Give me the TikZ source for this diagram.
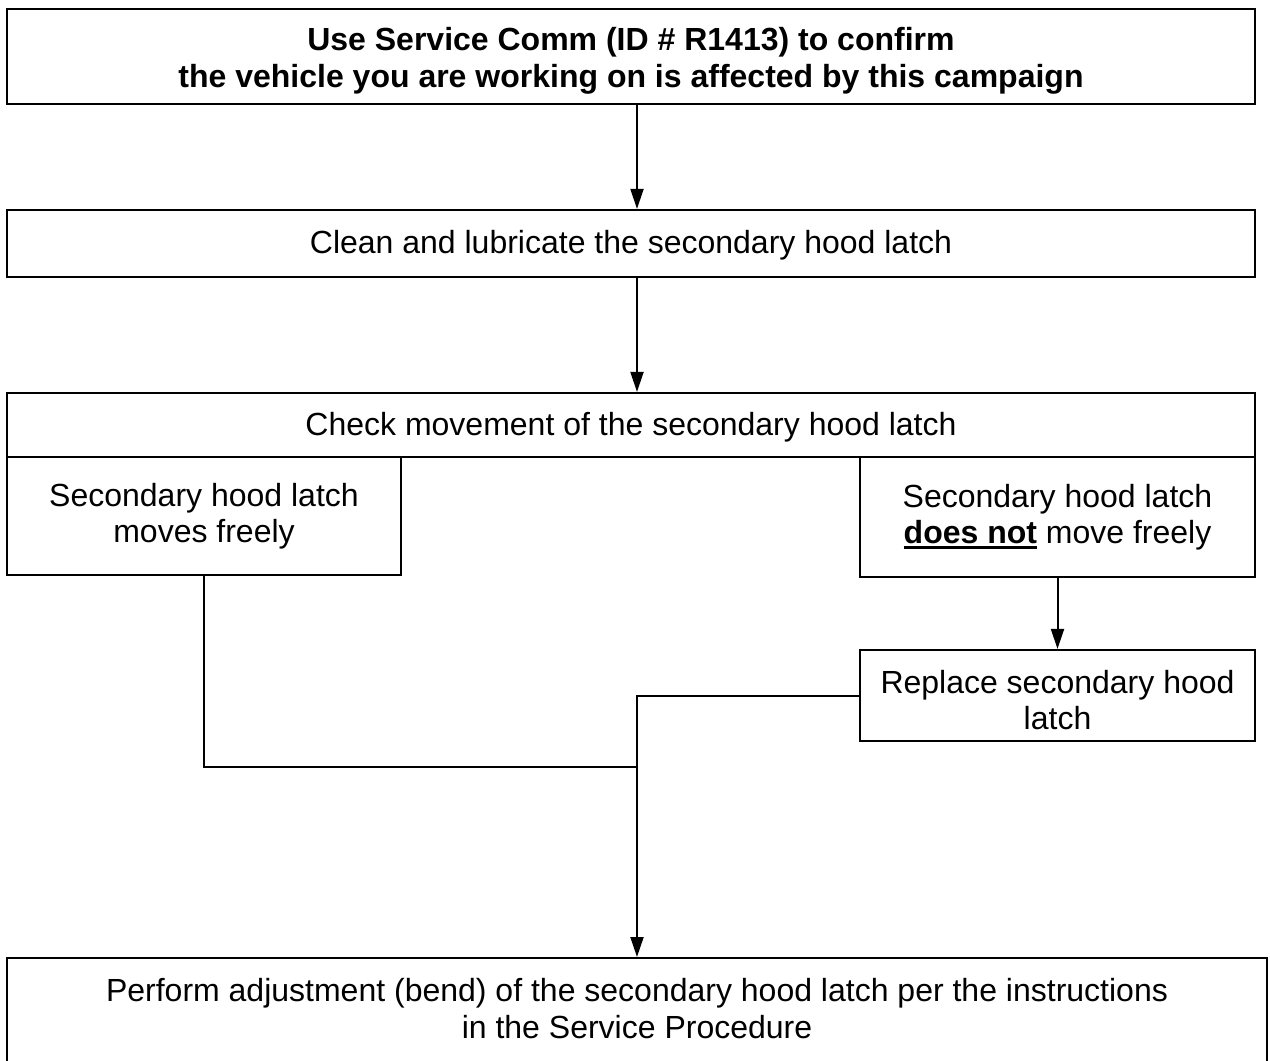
\documentclass[tikz,border=0pt]{standalone}
\usepackage{fontspec}
\setmainfont{Liberation Sans}
\usetikzlibrary{arrows.meta}
\newcommand\thickul[1]{\setbox0\hbox{#1}\rlap{\rule[-6pt]{\wd0}{3pt}}\box0\relax}
\newcommand\lowr[2]{\raisebox{-#1}[\height][\depth]{#2}}
\begin{document}
\begin{tikzpicture}[x=1pt,y=-1pt,
  box/.style={draw, line width=2.2pt, inner sep=0pt, align=center,
    font=\fontsize{32}{36}\selectfont},
  conn/.style={line width=2pt},
  arr/.style={conn, -{Triangle[length=20pt,width=13pt]}}]
\path[use as bounding box, clip] (0,0) rectangle (1270,1061);
\fill[white] (0,0) rectangle (1270,1061);

\node[box, minimum width=1248pt, minimum height=95pt,
  font=\fontsize{32}{37}\selectfont\bfseries] (top) at (631,56.5)
  {\lowr{4pt}{Use Service Comm (ID \# R1413) to confirm}\\\lowr{4pt}{the vehicle you are working on is affected by this campaign}};
\node[box, minimum width=1248pt, minimum height=67pt] (clean) at (631,243.5)
  {\lowr{2pt}{Clean and lubricate the secondary hood latch}};
\node[box, minimum width=1248pt, minimum height=64pt] (check) at (631,425)
  {\lowr{2pt}{Check movement of the secondary hood latch}};
\node[box, minimum width=394pt, minimum height=118pt] (lsub) at (204,516)
  {Secondary hood latch\\moves freely};
\node[box, minimum width=395pt, minimum height=120pt] (rsub) at (1057.5,517)
  {Secondary hood latch\\\thickul{\bfseries does not} move freely};
\node[box, minimum width=395pt, minimum height=91pt] (replace) at (1057.5,695.5)
  {\lowr{5pt}{Replace secondary hood}\\\lowr{5pt}{latch}};
\node[box, anchor=north, minimum width=1260pt, inner ysep=18pt, minimum height=125pt,
  font=\fontsize{32}{37}\selectfont] (perform) at (637,957)
  {\lowr{2pt}{Perform adjustment (bend) of the secondary hood latch per the instructions}\\\lowr{2pt}{in the Service Procedure}\\[8pt]\strut};

\coordinate (spine) at (637,0);
\coordinate (join) at (637,767);

\draw[arr] (top.south -| spine) -- (clean.north -| spine);
\draw[arr] (clean.south -| spine) -- (check.north -| spine);
\draw[arr] (rsub.south) -- (replace.north);
\draw[conn] (lsub.south) |- (join);
\draw[conn] (replace.west) -| (join);
\draw[arr] (join) -- (perform.north -| join);
\end{tikzpicture}
\end{document}
